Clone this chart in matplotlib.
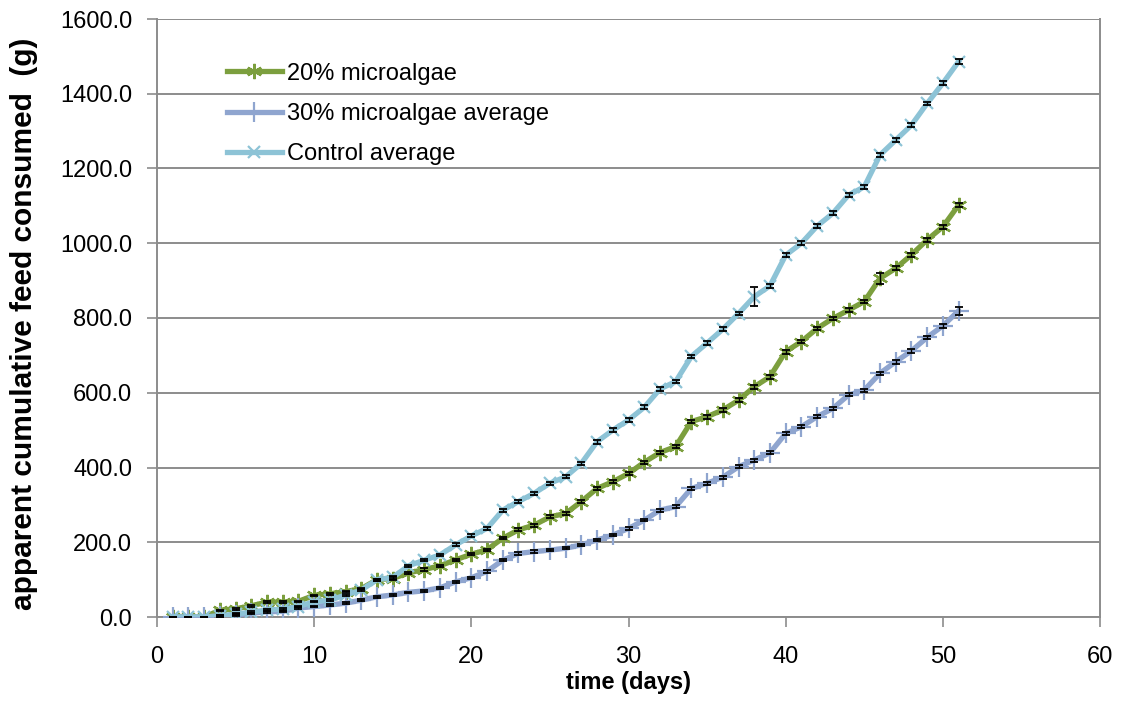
import matplotlib
matplotlib.use("Agg")
import matplotlib.pyplot as plt

days = list(range(1, 52))

green_20 = [0, 0, 0, 18, 22, 30, 40, 40, 42, 58, 62, 68, 76, 100, 103, 118, 127, 137, 153, 168,
            180, 211, 233, 246, 268, 277, 309, 344, 362, 384, 414, 440, 456, 523, 536, 554, 580,
            616, 643, 710, 737, 772, 799, 821, 844, 906, 933, 969, 1009, 1044, 1102]
blue_30 = [0, 0, 0, 3, 5, 10, 14, 15, 24, 28, 32, 37, 45, 54, 59, 66, 70, 78, 94, 105,
           122, 152, 170, 175, 179, 184, 193, 206, 219, 237, 259, 286, 295, 344, 358, 374, 402,
           420, 439, 491, 509, 536, 558, 594, 607, 652, 683, 712, 748, 779, 819]
control = [0, 0, 0, 3, 8, 13, 19, 21, 28, 41, 45, 59, 72, 100, 106, 137, 152, 166, 193, 217,
           237, 286, 309, 331, 358, 375, 411, 469, 500, 527, 561, 610, 630, 697, 733, 770, 812,
           857, 886, 968, 1000, 1046, 1080, 1129, 1151, 1236, 1276, 1316, 1374, 1428, 1486]

green_err = [0, 0, 0, 2, 2, 2, 2, 2, 2, 2, 2, 2, 2, 3, 3, 3, 3, 3, 3, 3,
             3, 3, 4, 4, 4, 4, 4, 4, 4, 4, 4, 4, 4, 5, 5, 5, 5, 5, 5, 5, 5,
             5, 5, 5, 5, 14, 5, 5, 5, 5, 6]
blue_err = [0, 0, 0, 2, 2, 2, 2, 2, 2, 2, 2, 2, 2, 2, 2, 2, 2, 2, 3, 3,
            3, 3, 3, 3, 3, 3, 3, 3, 3, 3, 3, 4, 4, 4, 4, 4, 4, 4, 4, 4,
            4, 4, 4, 4, 4, 4, 5, 5, 5, 5, 10]
control_err = [0, 0, 0, 2, 2, 2, 2, 2, 2, 2, 2, 2, 2, 3, 3, 3, 3, 3, 4, 4,
               4, 4, 4, 4, 4, 4, 5, 5, 5, 5, 5, 5, 5, 5, 5, 5, 5, 25, 5, 5,
               5, 5, 5, 5, 5, 5, 5, 5, 5, 5, 7]

labels = ["20% microalgae", "30% microalgae average", "Control average"]
x_ticks = [0, 10, 20, 30, 40, 50, 60]
y_ticks = [0, 200, 400, 600, 800, 1000, 1200, 1400, 1600]

plt.rcParams['font.family'] = ['Liberation Sans', 'DejaVu Sans']

fig = plt.figure(figsize=(11.28, 7.04), dpi=100)
ax = fig.add_axes([157 / 1128, 1 - 617 / 704, (1100 - 157) / 1128, (617 - 19) / 704])

c_green = "#7C9F3E"
c_blue = "#8FA5CF"
c_ctrl = "#8DC3D6"

ax.plot(days, green_20, color=c_green, lw=3.8, marker=(6, 2, 0), ms=11, mew=1.6,
        label=labels[0], zorder=3, solid_joinstyle='round')
ax.plot(days, blue_30, color=c_blue, lw=3.8, marker='+', ms=15, mew=1.6,
        label=labels[1], zorder=3, solid_joinstyle='round')
ax.plot(days, control, color=c_ctrl, lw=3.8, marker='x', ms=9, mew=1.6,
        label=labels[2], zorder=4, solid_joinstyle='round')

for vals, errs in ((green_20, green_err), (blue_30, blue_err), (control, control_err)):
    ax.errorbar(days, vals, yerr=errs, fmt='none', ecolor='black', elinewidth=1.0,
                capsize=3, capthick=1.3, zorder=5)

ax.set_xlim(0, 60)
ax.set_ylim(0, 1600)
ax.set_xticks(x_ticks)
ax.set_yticks(y_ticks)
ax.set_yticklabels([f"{v:.1f}" for v in y_ticks])
ax.set_xticklabels([str(v) for v in x_ticks])

ax.yaxis.grid(True, color="#8C8C8C", lw=1.4)
ax.xaxis.grid(False)
ax.set_axisbelow(True)

for s in ('left', 'bottom', 'right'):
    ax.spines[s].set_color("#8C8C8C")
    ax.spines[s].set_linewidth(1.4)
ax.spines['top'].set_visible(False)

ax.tick_params(axis='both', direction='out', length=7, width=1.2, color="#8C8C8C",
               labelsize=17, labelcolor='black')
ax.tick_params(axis='y', pad=11)
ax.tick_params(axis='x', pad=14)

ax.set_xlabel("time (days)", fontsize=17, fontweight='bold')
ax.set_ylabel("apparent cumulative feed consumed  (g)", fontsize=21.5, fontweight='bold')
ax.xaxis.set_label_coords(0.5, (617 - 671) / 598)
ax.yaxis.set_label_coords((38 - 157) / 943, 0.49)

leg = ax.legend(loc='upper left', bbox_to_anchor=(0.074, 0.927), frameon=False,
                fontsize=17, handlelength=2.33, handletextpad=0.2, labelspacing=0.78,
                borderpad=0, borderaxespad=0)

fig.savefig("out.png", dpi=100)
